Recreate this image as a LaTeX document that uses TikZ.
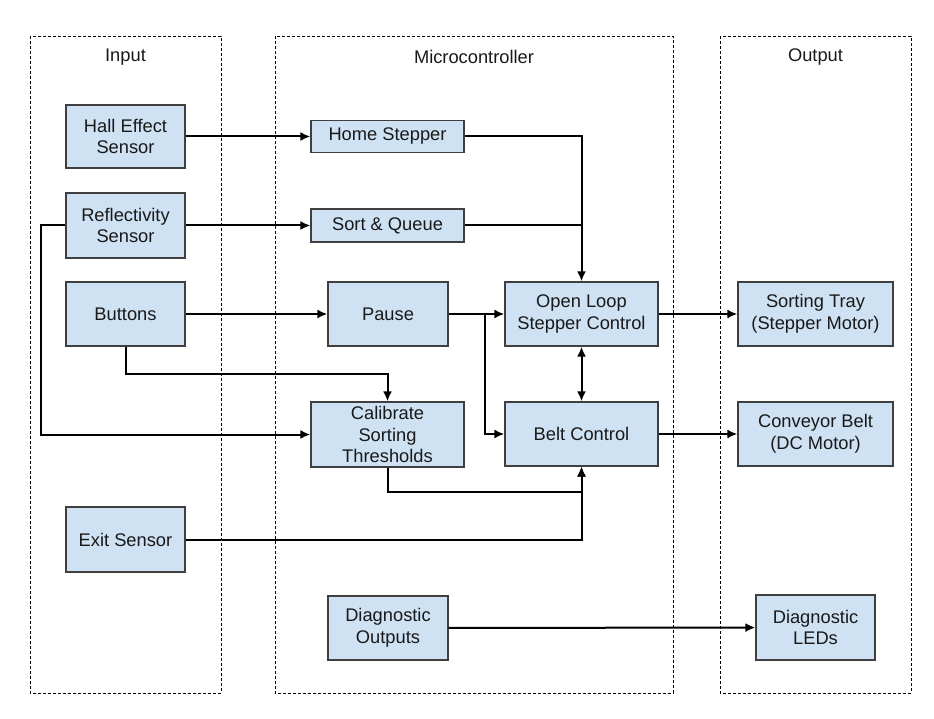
\documentclass[tikz,border=0pt]{standalone}
\usepackage{fontspec}
\setmainfont{Liberation Sans}
\usepackage{tikz}
\usetikzlibrary{calc}
\usetikzlibrary{arrows.meta}
\usetikzlibrary{positioning}
\definecolor{boxfill}{HTML}{CFE2F3}
\definecolor{boxline}{HTML}{3F3F3F}
\tikzset{>={Latex[length=10pt, width=9pt]}}
\tikzstyle{blk} = [draw = boxline, fill = boxfill, line width = 1.2pt, align = center, inner sep = 0, text = black!90, font = \fontsize{18.3}{21.7}\selectfont]
\tikzstyle{frame} = [draw = black, dashed, line width = 0.8pt, dash pattern = on 3pt off 2pt]
\tikzstyle{wire} = [line width = 2pt, draw = black]
\tikzstyle{ttl} = [draw = none, text = black!90, font = \fontsize{18.3}{21.7}\selectfont]

\begin{document}
\begin{tikzpicture}[x = 1pt, y = -1pt]
\useasboundingbox (0, 0) rectangle (934, 719);
% frames
\draw [frame] (30, 36) rectangle (221, 693);
\draw [frame] (275, 36) rectangle (673, 693);
\draw [frame] (720, 36) rectangle (911, 693);
\node [ttl] (tin) at (125.5, 57) {Input};
\node [ttl] (tmc) at (474, 57) {Microcontroller};
\node [ttl] (tout) at (815.5, 57) {Output};
% input
\node [blk, minimum width = 119pt, minimum height = 63pt] (hall) at (125.5, 136.5) {Hall Effect\\Sensor};
\node [blk, minimum width = 119pt, minimum height = 65pt] (refl) at (125.5, 225.5) {Reflectivity\\Sensor};
\node [blk, minimum width = 119pt, minimum height = 64pt] (btn) at (125.5, 314) {Buttons};
\node [blk, minimum width = 119pt, minimum height = 65pt] (exit) at (125.5, 539.5) {Exit Sensor};
% microcontroller
\node [blk, minimum width = 153pt, minimum height = 32pt] (home) at (387.5, 136.5) {Home Stepper};
\node [blk, minimum width = 153pt, minimum height = 33pt] (sortq) at (387.5, 225.5) {Sort \& Queue};
\node [blk, minimum width = 120pt, minimum height = 64pt] (pause) at (388, 314) {Pause};
\node [blk, minimum width = 153pt, minimum height = 65pt] (calib) at (387.5, 434.5) {Calibrate\\Sorting\\Thresholds};
\node [blk, minimum width = 120pt, minimum height = 64pt] (diagout) at (388, 628) {Diagnostic\\Outputs};
\node [blk, minimum width = 153pt, minimum height = 64pt] (olsc) at (581.5, 314) {Open Loop\\Stepper Control};
\node [blk, minimum width = 153pt, minimum height = 64pt] (belt) at (581.5, 434) {Belt Control};
% output
\node [blk, minimum width = 155pt, minimum height = 64pt] (tray) at (815.5, 314) {Sorting Tray\\(Stepper Motor)};
\node [blk, minimum width = 155pt, minimum height = 64pt] (conv) at (815.5, 434) {Conveyor Belt\\(DC Motor)};
\node [blk, minimum width = 119pt, minimum height = 65pt] (leds) at (815.5, 627.5) {Diagnostic\\LEDs};
% bends
\coordinate (rl) at (41, 225.5);
\coordinate (bturn) at (125.5, 374);
\coordinate (pj) at (485, 314);
\coordinate (cj) at (387.5, 492);
% connectors
\draw [wire, ->] (hall) to (home);
\draw [wire, ->] (refl) to (sortq);
\draw [wire, ->] (btn) to (pause);
\draw [wire, ->] (home.east) -| (olsc.north);
\draw [wire] (sortq.east) -- (sortq.east -| olsc.north);
\draw [wire, ->] (refl.west) -- (rl) |- (calib.west);
\draw [wire, ->] (btn.south) -- (bturn) -| (calib.north);
\draw [wire] (pause.east) -- (pj);
\draw [wire, ->] (pj) -- (olsc.west);
\draw [wire, ->] (pj) |- (belt.west);
\draw [wire, <->] (olsc.south) -- (belt.north);
\draw [wire, ->] (calib.south) -- (cj) -| (belt.south);
\draw [wire, ->] (exit.east) -| (belt.south);
\draw [wire, ->] (olsc) to (tray);
\draw [wire, ->] (belt) to (conv);
\draw [wire, ->] (diagout) to (leds);
\end{tikzpicture}
\end{document}
